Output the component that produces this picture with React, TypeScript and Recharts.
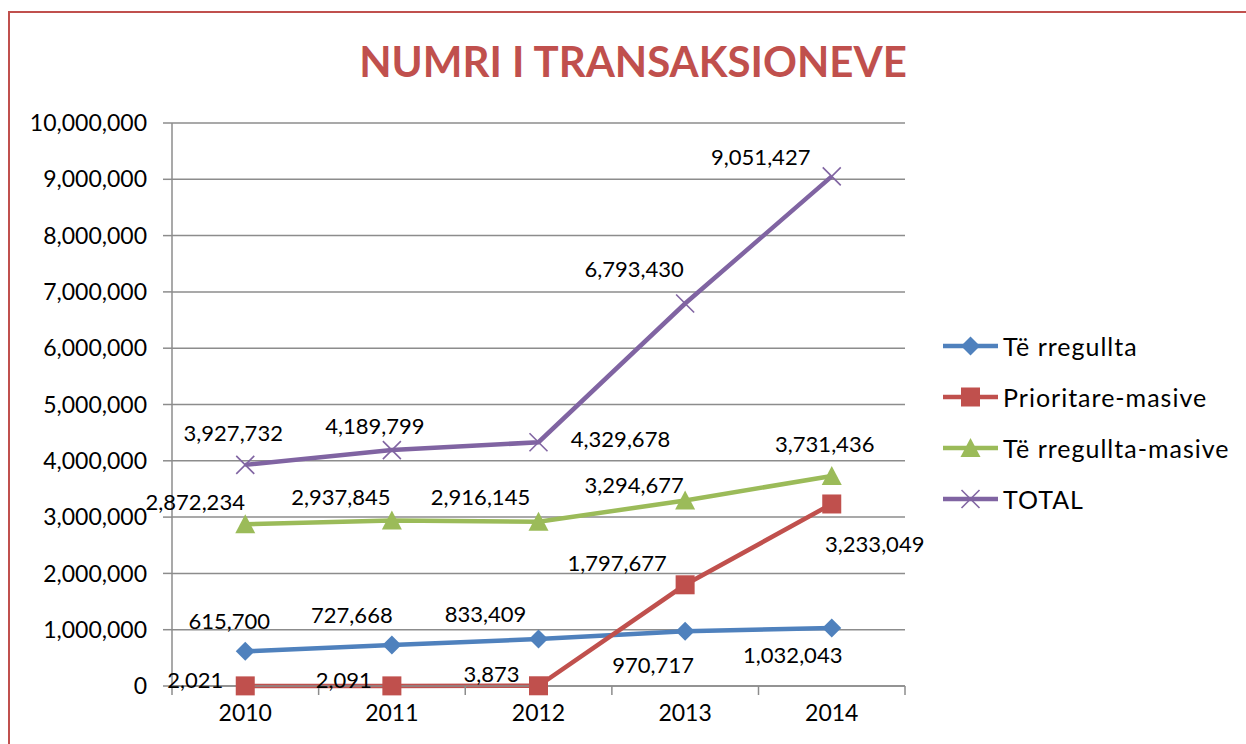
import { LineChart, Line, XAxis, YAxis, CartesianGrid, Legend } from 'recharts';

// Vlerat e lexuara nga grafiku origjinal
const years = ['2010', '2011', '2012', '2013', '2014'];
const teRregullta = [615700, 727668, 833409, 970717, 1032043];
const prioritareMasive = [2021, 2091, 3873, 1797677, 3233049];
const teRregulltaMasive = [2872234, 2937845, 2916145, 3294677, 3731436];
const total = [3927732, 4189799, 4329678, 6793430, 9051427];
const yTicks = [0, 1000000, 2000000, 3000000, 4000000, 5000000, 6000000, 7000000, 8000000, 9000000, 10000000];

const data = years.map((year, i) => ({
  year,
  teRregullta: teRregullta[i],
  prioritareMasive: prioritareMasive[i],
  teRregulltaMasive: teRregulltaMasive[i],
  total: total[i],
}));

const FONT = 'Lato, "Liberation Sans", sans-serif';
const GRID = '#8c8c8c';
const HALF_STEP = 73.25;

type Shape = 'diamond' | 'square' | 'triangle' | 'cross';

// pozicionet e etiketave (dx, dy) sic jane vendosur ne Excel
const series: { key: string; name: string; color: string; shape: Shape; offsets: [number, number][] }[] = [
  {
    key: 'teRregullta', name: 'Të rregullta', color: '#4F81BD', shape: 'diamond',
    offsets: [[-16, -31], [-40, -31], [-53, -26], [-32, 33], [-39, 27]],
  },
  {
    key: 'prioritareMasive', name: 'Prioritare-masive', color: '#C0504D', shape: 'square',
    offsets: [[-50, -6], [-48, -6], [-47, -12], [-68, -22], [43, 40]],
  },
  {
    key: 'teRregulltaMasive', name: 'Të rregullta-masive', color: '#9BBB59', shape: 'triangle',
    offsets: [[-50, -23], [-51, -24], [-58, -25], [-51, -16], [-7, -32]],
  },
  {
    key: 'total', name: 'TOTAL', color: '#8064A2', shape: 'cross',
    offsets: [[-12, -32], [-17, -25], [82, -4], [-51, -35], [-71, -20]],
  },
];

const Marker = ({ cx, cy, shape, color }: { cx: number; cy: number; shape: Shape; color: string }) => {
  if (shape === 'diamond') {
    return <polygon points={`${cx},${cy - 9.5} ${cx + 9.5},${cy} ${cx},${cy + 9.5} ${cx - 9.5},${cy}`} fill={color} />;
  }
  if (shape === 'square') {
    return <rect x={cx - 9.5} y={cy - 9.5} width={19} height={19} fill={color} />;
  }
  if (shape === 'triangle') {
    return <polygon points={`${cx},${cy - 10} ${cx + 10},${cy + 9} ${cx - 10},${cy + 9}`} fill={color} />;
  }
  return (
    <g stroke={color} strokeWidth={1.6}>
      <line x1={cx - 9} y1={cy - 9} x2={cx + 9} y2={cy + 9} />
      <line x1={cx - 9} y1={cy + 9} x2={cx + 9} y2={cy - 9} />
    </g>
  );
};

const XTick = (props: any) => {
  const { x, y, payload, index, visibleTicksCount } = props;
  const last = index === visibleTicksCount - 1;
  return (
    <g>
      <line x1={x - HALF_STEP} y1={y} x2={x - HALF_STEP} y2={y + 9} stroke={GRID} strokeWidth={1.5} />
      {last && <line x1={x + HALF_STEP} y1={y} x2={x + HALF_STEP} y2={y + 9} stroke={GRID} strokeWidth={1.5} />}
      <text x={x} y={y + 35} textAnchor="middle" fontSize={23} fontFamily={FONT} fill="#000">
        {payload.value}
      </text>
    </g>
  );
};

const renderLegend = () => (
  <div style={{ fontFamily: FONT, fontSize: 25, letterSpacing: 1, color: '#000' }}>
    {series.map((s) => (
      <div key={s.key} style={{ display: 'flex', alignItems: 'center', height: 51 }}>
        <svg width={60} height={24} style={{ flex: 'none' }}>
          <line x1={0} y1={12} x2={55} y2={12} stroke={s.color} strokeWidth={4.5} />
          <Marker cx={27.5} cy={12} shape={s.shape} color={s.color} />
        </svg>
        <span>{s.name}</span>
      </div>
    ))}
  </div>
);

const App = () => {
  return (
    <div style={{ position: 'absolute', left: 0, top: 0, width: 1246, height: 744, overflow: 'hidden', background: '#fff' }}>
      <div
        style={{
          position: 'absolute', left: 8, top: 11, width: 1400, height: 900,
          border: '2px solid #C0504D', boxSizing: 'border-box',
        }}
      />
      <div
        style={{
          position: 'absolute', left: 333, top: 35, width: 600, textAlign: 'center',
          fontFamily: FONT, fontWeight: 700, fontSize: 42, color: '#C0504D', lineHeight: '52px',
        }}
      >
        NUMRI I TRANSAKSIONEVE
      </div>
      <div style={{ position: 'absolute', left: 0, top: 0 }}>
        <LineChart width={1246} height={744} data={data} margin={{ top: 123, right: 341, bottom: 28, left: 0 }}>
          <CartesianGrid vertical={false} stroke={GRID} strokeWidth={1.5} />
          <XAxis
            dataKey="year"
            height={30}
            padding={{ left: HALF_STEP, right: HALF_STEP }}
            axisLine={{ stroke: GRID, strokeWidth: 1.5 }}
            tickLine={false}
            tickSize={0}
            tickMargin={0}
            tick={<XTick />}
            interval={0}
          />
          <YAxis
            width={172}
            domain={[0, 10000000]}
            ticks={yTicks}
            interval={0}
            axisLine={{ stroke: GRID, strokeWidth: 1.5 }}
            tickLine={{ stroke: GRID, strokeWidth: 1.5 }}
            tickSize={9}
            tickMargin={16}
            tick={{ fontSize: 23, fontFamily: FONT, fill: '#000' }}
            tickFormatter={(v: number) => v.toLocaleString('en-US')}
          />
          <Legend
            layout="vertical"
            align="center"
            verticalAlign="middle"
            content={renderLegend}
            wrapperStyle={{ left: 943, top: 320, width: 303 }}
          />
          {series.map((s) => (
            <Line
              key={s.key}
              dataKey={s.key}
              name={s.name}
              stroke={s.color}
              strokeWidth={4.5}
              isAnimationActive={false}
              dot={(p: any) => <Marker key={`${s.key}-${p.index}`} cx={p.cx} cy={p.cy} shape={s.shape} color={s.color} />}
              activeDot={false}
              label={(p: any) => {
                const [dx, dy] = s.offsets[p.index];
                return (
                  <text
                    key={`${s.key}-l-${p.index}`}
                    x={p.x + dx}
                    y={p.y + dy}
                    textAnchor="middle"
                    dominantBaseline="central"
                    fontSize={22}
                    fontFamily={FONT}
                    fill="#000"
                  >
                    {Number(p.value).toLocaleString('en-US')}
                  </text>
                );
              }}
            />
          ))}
        </LineChart>
      </div>
    </div>
  );
};

export default App;
